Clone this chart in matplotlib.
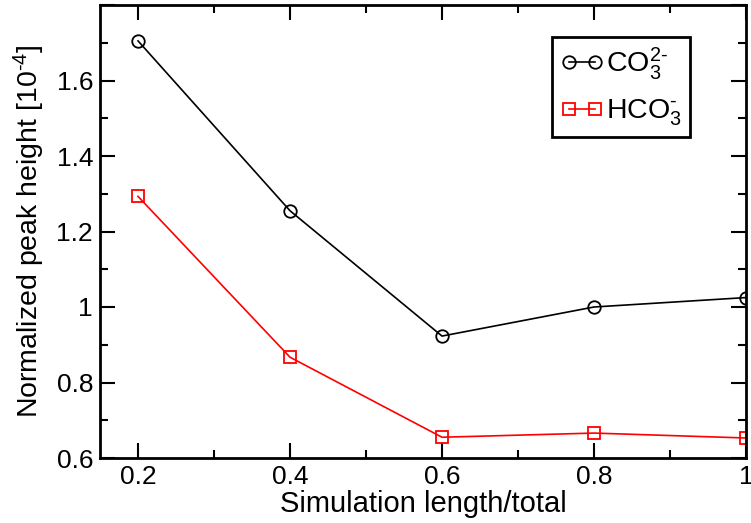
import matplotlib
matplotlib.use("Agg")
import matplotlib.pyplot as plt
from matplotlib.ticker import MultipleLocator, FuncFormatter

plt.rcParams['font.family'] = ['Liberation Sans', 'DejaVu Sans']
plt.rcParams['mathtext.fontset'] = 'custom'
plt.rcParams['mathtext.rm'] = 'Liberation Sans'
plt.rcParams['mathtext.it'] = 'Liberation Sans'

# —— data —— #
length = [0.2, 0.4, 0.6, 0.8, 1.0]
co3 = [1.705, 1.255, 0.923, 1.000, 1.025]
hco3 = [1.293, 0.867, 0.655, 0.666, 0.653]

# —— plot —— #
fig = plt.figure(figsize=(7.51, 5.23), dpi=100)
ax = fig.add_axes([100/751, 1 - 458/523, 646/751, 453/523])

ax.plot(length, co3, color="black", lw=1.2, marker="o", ms=9, mfc="none",
        mec="black", mew=1.3, label=r"CO$_3^{\text{2-}}$")
ax.plot(length, hco3, color="red", lw=1.2, marker="s", ms=8.5, mfc="none",
        mec="red", mew=1.3, label=r"HCO$_3^{\text{-}}$")

ax.set_xlim(0.15, 1.0)
ax.set_ylim(0.6, 1.8)
ax.xaxis.set_major_locator(MultipleLocator(0.2))
ax.xaxis.set_minor_locator(MultipleLocator(0.1))
ax.yaxis.set_major_locator(MultipleLocator(0.2))
ax.yaxis.set_minor_locator(MultipleLocator(0.1))


def tick_fmt(v, p):
    if abs(v - 1.8) < 1e-9:
        return ""
    if abs(v - 1) < 1e-9:
        return "1"
    return f"{v:.1f}"


ax.xaxis.set_major_formatter(FuncFormatter(tick_fmt))
ax.yaxis.set_major_formatter(FuncFormatter(tick_fmt))

ax.tick_params(which="both", direction="in", top=True, right=True, width=1.5)
ax.tick_params(which="major", length=11, labelsize=19, pad=5)
ax.tick_params(which="minor", length=6)
for s in ax.spines.values():
    s.set_linewidth(2)

ax.set_xlabel("Simulation length/total", fontsize=21, labelpad=1)
ax.set_ylabel(r"Normalized peak height [10$^{\text{-4}}$]", fontsize=20.5, labelpad=7)

leg = ax.legend(loc="upper left", bbox_to_anchor=(552/751, 1 - 37/523),
                bbox_transform=fig.transFigure, borderaxespad=0, numpoints=2,
                handlelength=1.5, handletextpad=0.1, fontsize=20.5, fancybox=False,
                framealpha=1, edgecolor="black", borderpad=0.3, labelspacing=0.55)
leg.get_frame().set_linewidth(2)

fig.savefig("out.png", dpi=100)
